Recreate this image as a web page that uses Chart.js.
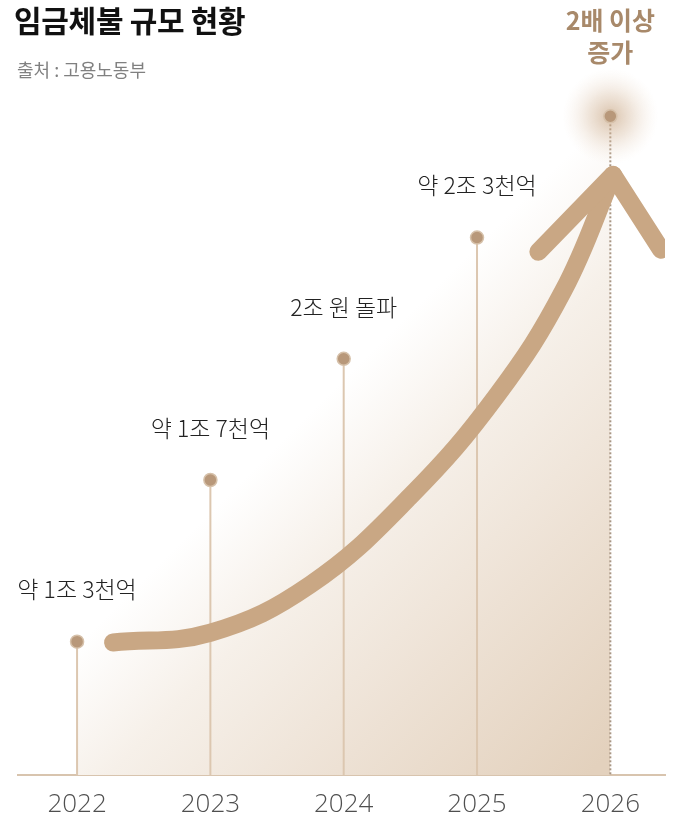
<!DOCTYPE html>
<html>
<head>
<meta charset="utf-8">
<script src="https://cdn.jsdelivr.net/npm/chart.js@4/dist/chart.umd.min.js"></script>
<style>
  html, body { margin: 0; padding: 0; background: #fff; }
  #wrap { position: relative; width: 677px; height: 821px; }
  #title { position: absolute; left: 14px; top: 0px; font: 700 30px 'Noto Sans CJK KR', sans-serif; color: #111; line-height: 38px; letter-spacing: -0.3px; }
  #source { position: absolute; left: 17px; top: 57px; font: 400 18px 'Noto Sans CJK KR', sans-serif; color: #808080; line-height: 24px; }
</style>
</head>
<body>
<div id="wrap">
  <canvas id="wageChart" width="677" height="821"></canvas>
  <div id="title">임금체불 규모 현황</div>
  <div id="source">출처 : 고용노동부</div>
</div>
<script>
// values (조 원)
const years = [2022, 2023, 2024, 2025, 2026];
const amounts = [1.3, 1.7, 2.0, 2.3, 2.6];
const labels = ['약 1조 3천억', '약 1조 7천억', '2조 원 돌파', '약 2조 3천억', ''];
const highlight = ['2배 이상', '증가'];

// the big arrow, in chart units
const arrowX = [2022.27, 2023.0, 2023.75, 2024.5, 2025.15, 2025.65, 2026.02];
const arrowY = [1.298, 1.322, 1.441, 1.66, 1.91, 2.17, 2.455];
const headX = [2025.46, 2026.02, 2026.38];
const headY = [2.265, 2.455, 2.27];

const tan = '#c9a784';

let areaFill = function(context) {
    const chart = context.chart;
    if (!chart.chartArea) return '#f0e6db';
    const x = chart.scales.x, y = chart.scales.y;
    const cx = x.getPixelForValue(2024), cy = y.getPixelForValue(2.0);
    const g = chart.ctx.createLinearGradient(cx + 10, cy + 10, cx + 330, cy + 330);
    g.addColorStop(0, 'rgba(255,255,255,1)');
    g.addColorStop(0.25, '#f6f0e9');
    g.addColorStop(0.6, '#ede1d4');
    g.addColorStop(1, '#e3d1bd');
    return g;
};

const decor = {
    id: 'decor',
    afterDatasetDraw(chart, args) {
        if (args.index !== 0) return;
        const ctx = chart.ctx, x = chart.scales.x, y = chart.scales.y;
        const base = chart.chartArea.bottom;
        ctx.save();
        years.forEach((yr, i) => {
            const px = x.getPixelForValue(yr), py = y.getPixelForValue(amounts[i]);
            ctx.beginPath();
            if (i === years.length - 1) {
                ctx.setLineDash([2, 2]);
                ctx.strokeStyle = '#a89684';
                ctx.lineWidth = 2;
            } else {
                ctx.setLineDash([]);
                ctx.strokeStyle = '#dcc7b0';
                ctx.lineWidth = 2;
            }
            ctx.moveTo(px, py);
            ctx.lineTo(px, base);
            ctx.stroke();
        });
        // glow around the last point
        const gx = x.getPixelForValue(years[4]), gy = y.getPixelForValue(amounts[4]);
        const rg = ctx.createRadialGradient(gx, gy, 0, gx, gy, 48);
        rg.addColorStop(0, 'rgba(196,160,124,0.65)');
        rg.addColorStop(0.45, 'rgba(214,186,158,0.38)');
        rg.addColorStop(1, 'rgba(240,225,210,0)');
        ctx.fillStyle = rg;
        ctx.beginPath();
        ctx.arc(gx, gy, 48, 0, Math.PI * 2);
        ctx.fill();
        ctx.restore();
    },
    afterDatasetsDraw(chart) {
        const ctx = chart.ctx, x = chart.scales.x, y = chart.scales.y;
        ctx.save();
        ctx.textAlign = 'center';
        ctx.textBaseline = 'middle';
        ctx.fillStyle = '#222';
        ctx.font = '300 23px "Noto Sans CJK KR", sans-serif';
        years.forEach((yr, i) => {
            if (!labels[i]) return;
            ctx.fillText(labels[i], x.getPixelForValue(yr), y.getPixelForValue(amounts[i]) - 52);
        });
        ctx.fillStyle = '#a8896a';
        ctx.font = '700 25px "Noto Sans CJK KR", sans-serif';
        const hx = x.getPixelForValue(years[4]);
        ctx.fillText(highlight[0], hx, 20);
        ctx.fillText(highlight[1], hx, 52);
        ctx.restore();
    }
};

let makeChart = function() {
    const ctx = document.getElementById('wageChart');

    new Chart(ctx, {
    type: 'line',
    data: {
        datasets: [
            {
                label: 'area',
                data: years.map((v, i) => ({x: v, y: amounts[i]})),
                fill: 'start',
                backgroundColor: areaFill,
                borderWidth: 0,
                pointRadius: 0,
                order: 10,
            },
            {
                label: 'arrow',
                data: arrowX.map((v, i) => ({x: v, y: arrowY[i]})),
                borderColor: tan,
                borderWidth: 18,
                borderCapStyle: 'round',
                tension: 0.4,
                pointRadius: 0,
                fill: false,
                order: 3,
            },
            {
                label: 'head',
                data: headX.map((v, i) => ({x: v, y: headY[i]})),
                borderColor: tan,
                borderWidth: 18,
                borderCapStyle: 'round',
                borderJoinStyle: 'round',
                tension: 0,
                pointRadius: 0,
                fill: false,
                order: 2,
            },
            {
                label: 'points',
                data: years.map((v, i) => ({x: v, y: amounts[i]})),
                showLine: false,
                pointRadius: 6.5,
                pointBackgroundColor: '#b8987a',
                pointBorderColor: '#d6c1aa',
                pointBorderWidth: 1.5,
                order: 1,
            },
        ]
    },
    options: {
        maintainAspectRatio: false,
        responsive: false,
        animation: false,
        layout: { padding: { left: 18, right: 12, top: 0, bottom: 0 } },
        plugins: { legend: { display: false }, tooltip: { enabled: false } },
        scales: {
            x: {
                type: 'linear',
                min: 2021.557,
                max: 2026.41,
                afterBuildTicks: s => { s.ticks = years.map(v => ({value: v})); },
                afterFit: s => { s.height = 46; },
                grid: { display: false, drawTicks: false },
                border: { display: true, color: '#d8c4ae', width: 2 },
                ticks: {
                    padding: 14,
                    maxRotation: 0,
                    color: '#4f4f4f',
                    font: { family: 'Open Sans', size: 26, weight: 300 },
                    callback: v => String(v),
                },
            },
            y: {
                display: false,
                min: 0.97,
                max: 2.868,
            },
        }
    },
    plugins: [decor]
    });
}

document.addEventListener('DOMContentLoaded', makeChart, false);
</script>
</body>
</html>
